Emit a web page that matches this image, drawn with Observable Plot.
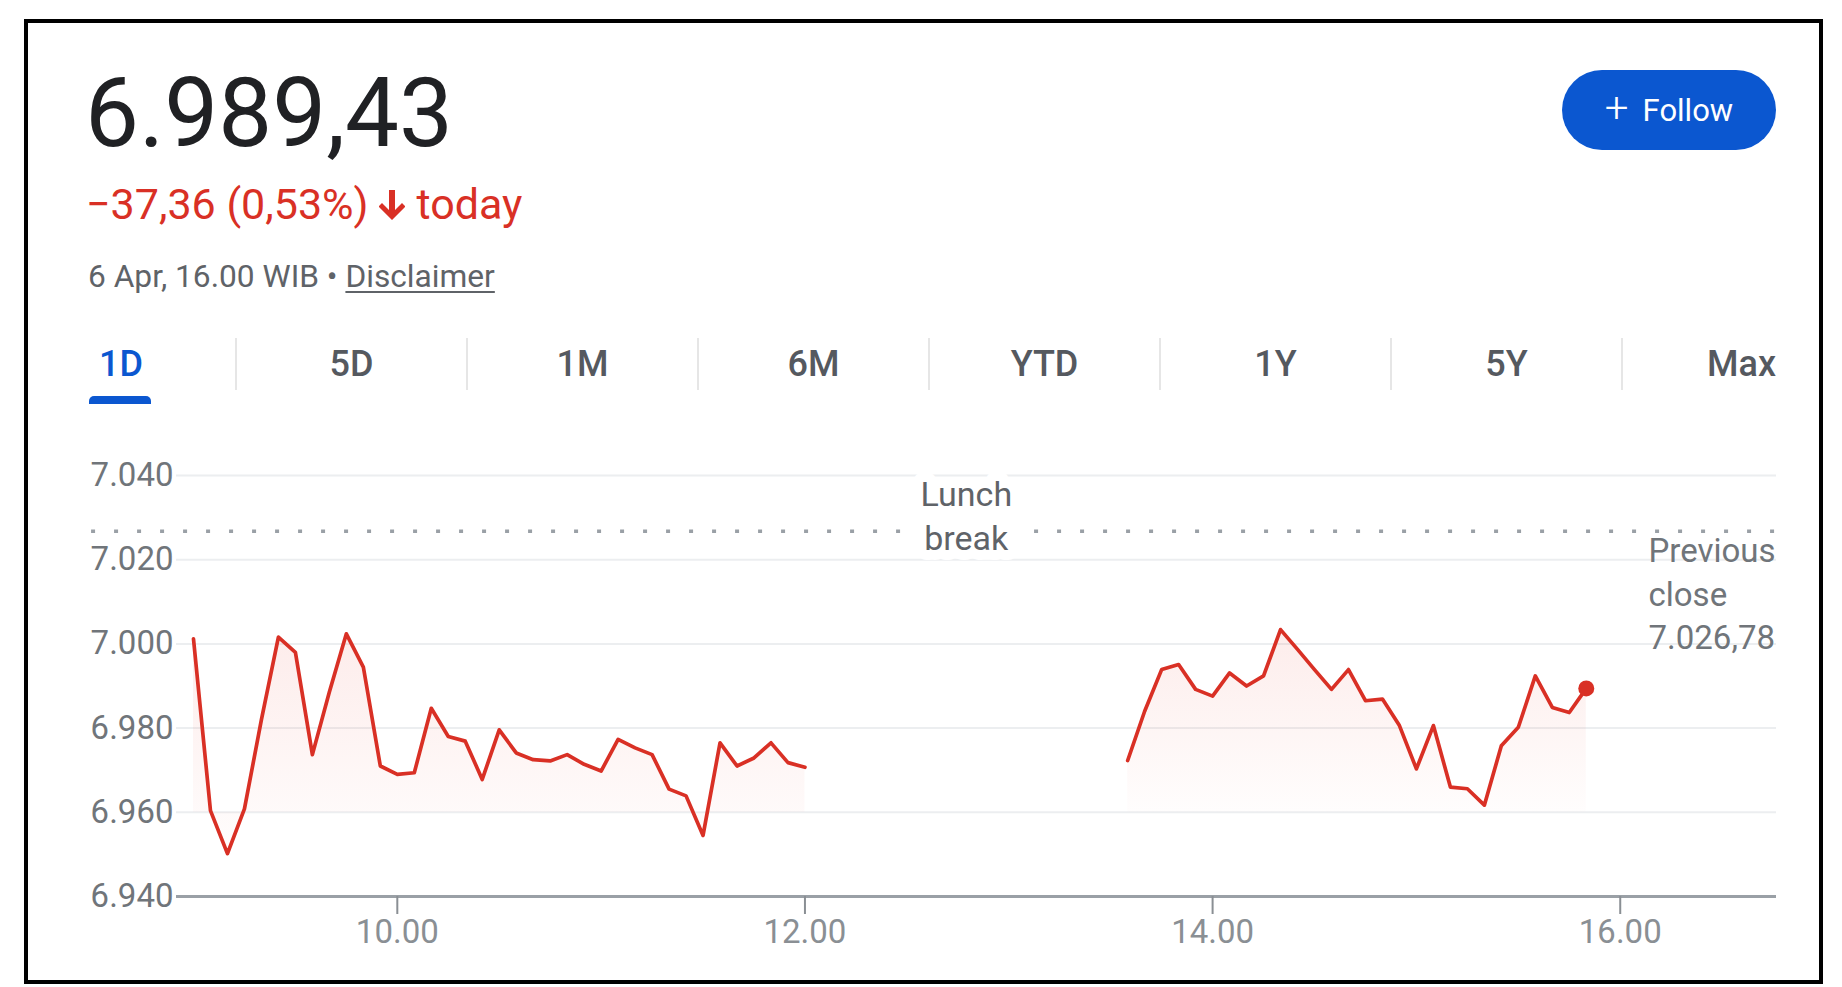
<!DOCTYPE html>
<html>
<head>
<meta charset="utf-8">
<script src="https://cdn.jsdelivr.net/npm/d3@7"></script>
<script src="https://cdn.jsdelivr.net/npm/@observablehq/plot@0.6"></script>
<style>
  html, body { margin: 0; padding: 0; background: #fff; }
  body { width: 1842px; height: 987px; position: relative; overflow: hidden; font-family: Roboto, "Noto Sans", sans-serif; }
  #frame { position: absolute; left: 24px; top: 19px; width: 1799px; height: 965px; border: 4px solid #000; box-sizing: border-box; z-index: 10; pointer-events: none; }
  #price { position: absolute; left: 85px; top: 65px; font-size: 96px; line-height: 1; color: #202124; white-space: nowrap; }
  #change { position: absolute; left: 86px; top: 183px; font-size: 43px; line-height: 1; color: #d93025; white-space: nowrap; }
  #change svg { vertical-align: -3px; margin: 0 12px 0 10px; }
  #meta { position: absolute; left: 88px; top: 261px; font-size: 31.7px; line-height: 1; color: #5f6368; white-space: nowrap; }
  #meta u { color: #5f6368; text-decoration-thickness: 2px; text-underline-offset: 4px; }
  #follow { position: absolute; left: 1562px; top: 70px; width: 214px; height: 80px; border-radius: 40px; background: #0b57d0; color: #fff; font-size: 31px; font-weight: 400; display: flex; align-items: center; justify-content: center; white-space: nowrap; }
  #follow .plus { font-size: 42px; font-weight: 300; margin-right: 14px; line-height: 1; position: relative; top: -2px; }
  #tabs { position: absolute; left: 88px; top: 338px; width: 1688px; height: 52px; display: flex; }
  .tab { height: 52px; display: flex; align-items: center; justify-content: center; font-size: 36px; font-weight: 500; color: #55595f; box-sizing: border-box; }
  .tab + .tab { border-left: 2px solid #e6e6e6; }
  .tab.first { justify-content: flex-start; padding-left: 11px; color: #0b57d0; }
  .tab.last { justify-content: flex-end; }
  #underline { position: absolute; left: 89px; top: 396px; width: 62px; height: 8px; background: #0b57d0; border-radius: 5px 5px 0 0; }
  #chart { position: absolute; left: 0; top: 420px; }
</style>
</head>
<body>
<div id="frame"></div>
<div id="price"></div>
<div id="change"></div>
<div id="meta"></div>
<div id="follow"><span class="plus">+</span>Follow</div>
<div id="tabs"></div>
<div id="underline"></div>
<div id="chart"></div>
<script>
// ---- data ----
const lastPrice = 6989.43;
const changeText = "−37,36 (0,53%)";
const dateText = "6 Apr, 16.00 WIB";
const disclaimerText = "Disclaimer";
const tabs = ["1D", "5D", "1M", "6M", "YTD", "1Y", "5Y", "Max"];
const prevClose = 7026.78;

const morningTimes = ["09:00","09:05","09:10","09:15","09:20","09:25","09:30","09:35","09:40","09:45",
  "09:50","09:55","10:00","10:05","10:10","10:15","10:20","10:25","10:30","10:35",
  "10:40","10:45","10:50","10:55","11:00","11:05","11:10","11:15","11:20","11:25",
  "11:30","11:35","11:40","11:45","11:50","11:55","12:00"];
const morningValues = [7001.2, 6960.4, 6950.2, 6960.8, 6982.0, 7001.6, 6998.0, 6973.7, 6988.6, 7002.4,
  6994.5, 6971.0, 6969.0, 6969.4, 6984.7, 6978.0, 6976.9, 6967.8, 6979.6, 6974.1,
  6972.5, 6972.2, 6973.7, 6971.4, 6969.8, 6977.3, 6975.3, 6973.7, 6965.5, 6963.9,
  6954.5, 6976.5, 6971.0, 6972.9, 6976.5, 6971.8, 6970.7];

const afternoonTimes = ["13:35","13:40","13:45","13:50","13:55","14:00","14:05","14:10","14:15","14:20",
  "14:25","14:30","14:35","14:40","14:45","14:50","14:55","15:00","15:05","15:10",
  "15:15","15:20","15:25","15:30","15:35","15:40","15:45","15:50"];
const afternoonValues = [6972.3, 6984.0, 6993.9, 6995.1, 6989.2, 6987.6, 6993.1, 6990.0, 6992.4, 7003.4,
  6998.7, 6993.9, 6989.2, 6993.9, 6986.5, 6986.9, 6980.6, 6970.3, 6980.6, 6966.0,
  6965.6, 6961.7, 6975.8, 6980.2, 6992.4, 6984.9, 6983.7, 6989.43];

const yTicks = [6940, 6960, 6980, 7000, 7020, 7040];
const xTickLabels = ["10:00", "12:00", "14:00", "16:00"];
const xDomainLabels = ["08:55", "16:46"];
const prevCloseLineStart = "08:30";
const areaBase = 6960;

// ---- helpers ----
const parseT = d3.utcParse("%H:%M");
const locale = d3.formatLocale({decimal: ",", thousands: ".", grouping: [3], currency: ["", ""]});
const fmtInt = locale.format(",d");
const fmt2 = locale.format(",.2f");
const red = "#d93025";

const data = [
  ...morningTimes.map((t, i) => ({time: parseT(t), value: morningValues[i], session: "morning"})),
  ...afternoonTimes.map((t, i) => ({time: parseT(t), value: afternoonValues[i], session: "afternoon"}))
];
const last = data[data.length - 1];
const xDomain = xDomainLabels.map(parseT);
const lunchMid = new Date((parseT(morningTimes[morningTimes.length - 1]).getTime() + parseT(afternoonTimes[0]).getTime()) / 2);

// ---- header ----
document.getElementById("price").textContent = fmt2(lastPrice);
document.getElementById("change").innerHTML = changeText +
  '<svg width="26" height="32" viewBox="0 0 26 32"><path d="M10 0h6v20l7-7 3.5 3.5L13 30 -0.5 16.5 3 13l7 7z" fill="' + red + '"/></svg>today';
document.getElementById("meta").innerHTML = dateText + " • <u>" + disclaimerText + "</u>";
const tabsEl = document.getElementById("tabs");
tabs.forEach((t, i) => {
  const d = document.createElement("div");
  d.className = "tab" + (i === 0 ? " first" : i === tabs.length - 1 ? " last" : "");
  d.style.width = (i === 0 ? 147 : i === tabs.length - 1 ? 155 : 231) + "px";
  d.textContent = t;
  tabsEl.appendChild(d);
});

// ---- chart ----
const svgns = "http://www.w3.org/2000/svg";
const gradientDefs = () => {
  const defs = document.createElementNS(svgns, "defs");
  defs.innerHTML = '<linearGradient id="fadeRed" x1="0" y1="0" x2="0" y2="1">' +
    '<stop offset="0" stop-color="#ea4335" stop-opacity="0.10"/>' +
    '<stop offset="1" stop-color="#ea4335" stop-opacity="0.01"/></linearGradient>';
  return defs;
};

const chart = Plot.plot({
  width: 1842,
  height: 560,
  marginLeft: 176,
  marginRight: 66,
  marginTop: 55,
  marginBottom: 84,
  style: {fontFamily: "Roboto, 'Noto Sans', sans-serif", fontSize: "33px", color: "#70757a", background: "white", overflow: "visible"},
  x: {type: "utc", domain: xDomain},
  y: {domain: [yTicks[0], yTicks[yTicks.length - 1]]},
  marks: [
    gradientDefs,
    Plot.gridY(yTicks.slice(1), {stroke: "#eceef0", strokeOpacity: 1, strokeWidth: 2}),
    Plot.areaY(data, {x: "time", y1: areaBase, y2: "value", z: "session", fill: "url(#fadeRed)"}),
    Plot.ruleY([{y: prevClose, x1: parseT(prevCloseLineStart), x2: xDomain[1]}],
      {y: "y", x1: "x1", x2: "x2", stroke: "#9aa0a6", strokeWidth: 3.5, strokeDasharray: "4 19"}),
    Plot.ruleY([yTicks[0]], {stroke: "#9aa0a6", strokeWidth: 3}),
    Plot.axisY({ticks: yTicks, tickFormat: fmtInt, tickSize: 0, tickPadding: 3, fontSize: 33, color: "#70757a"}),
    Plot.axisX({ticks: xTickLabels.map(parseT), tickFormat: d3.utcFormat("%H.%M"), tickSize: 18, tickPadding: 5, strokeWidth: 2, fontSize: 33, color: "#8a8f94"}),
    Plot.line(data, {x: "time", y: "value", z: "session", stroke: red, strokeWidth: 3.7}),
    Plot.dot([last], {x: "time", y: "value", r: 8, fill: red}),
    Plot.text([{x: lunchMid, y: prevClose, label: "Lunch\nbreak"}],
      {x: "x", y: "y", text: "label", dy: -17, lineAnchor: "middle", lineHeight: 1.3, fontSize: 34, fill: "#5f6368", stroke: "white", strokeWidth: 20}),
    Plot.text([{y: prevClose, label: "Previous\nclose\n" + fmt2(prevClose)}],
      {y: "y", text: "label", frameAnchor: "right", textAnchor: "start", lineAnchor: "top", dx: -128, dy: 0, lineHeight: 1.32, fontSize: 33, fill: "#70757a"})
  ]
});
document.getElementById("chart").appendChild(chart);
</script>
</body>
</html>
